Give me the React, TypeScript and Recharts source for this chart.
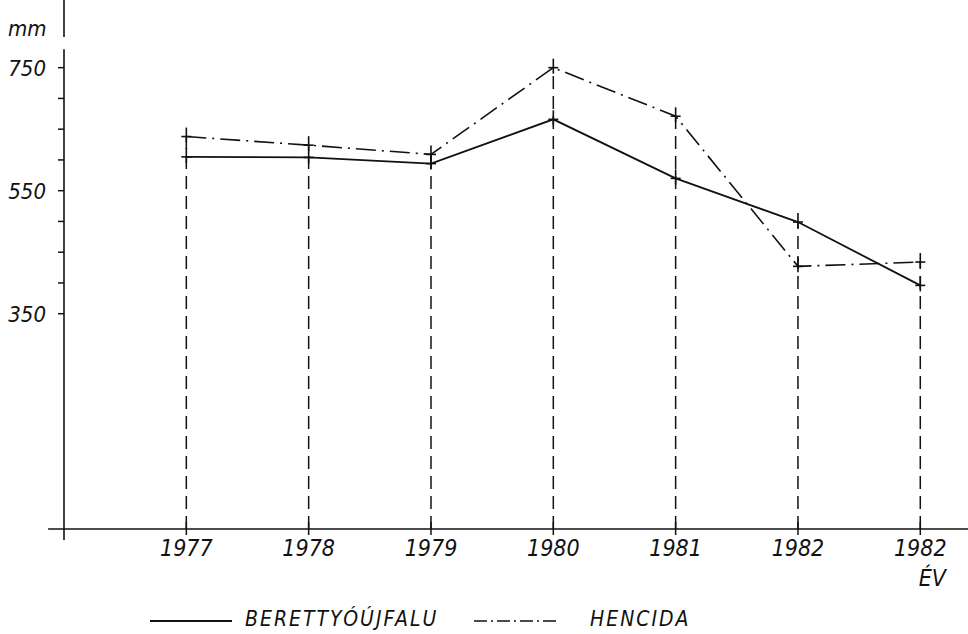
import React from "react";
import { LineChart, Line, XAxis, YAxis, ReferenceLine } from "recharts";

const yearLabels = ["1977", "1978", "1979", "1980", "1981", "1982", "1982"];
const berettyoujfalu = [605, 604, 594, 666, 570, 499, 396];
const hencida = [638, 624, 609, 750, 671, 427, 434];
const yTicks = [350, 400, 450, 500, 550, 600, 650, 700, 750];
const yLabelled = [350, 550, 750];

const data = yearLabels.map((year, i) => ({
  idx: i + 1,
  year,
  berettyo: berettyoujfalu[i],
  hencida: hencida[i],
}));

const INK = "#111";
const FONT = "'Liberation Sans Narrow', 'DejaVu Sans Condensed', 'Liberation Sans', sans-serif";

function CrossDot(props: any) {
  const { cx, cy, index } = props;
  if (cx == null || cy == null) return <g key={`n-${index}`} />;
  return (
    <g key={`c-${index}`}>
      <line x1={cx} y1={cy - 9} x2={cx} y2={cy + 6} stroke={INK} strokeWidth={1.6} />
      <line x1={cx - 5} y1={cy} x2={cx + 5} y2={cy} stroke={INK} strokeWidth={1.6} />
    </g>
  );
}

function XTick(props: any) {
  const { x, y, payload, index } = props;
  const label = yearLabels[payload.value - 1];
  return (
    <g>
      <line x1={x} y1={y - 7} x2={x} y2={y + 6} stroke={INK} strokeWidth={1.5} />
      <text x={x} y={y + 27} textAnchor="middle" fontSize={23} fontStyle="italic" fontFamily={FONT} fill={INK}>
        {label}
      </text>
      {index === yearLabels.length - 1 && (
        <text x={x + 12} y={y + 57} textAnchor="middle" fontSize={23} fontStyle="italic" fontFamily={FONT} fill={INK}>
          ÉV
        </text>
      )}
    </g>
  );
}

function YTick(props: any) {
  const { x, y, payload } = props;
  if (!yLabelled.includes(payload.value)) return <g />;
  return (
    <text x={x} y={y + 8} textAnchor="end" fontSize={22} fontStyle="italic" fontFamily={FONT} fill={INK}>
      {payload.value}
    </text>
  );
}

export default function App() {
  return (
    <div style={{ position: "absolute", left: 0, top: 0, width: 968, height: 634, background: "#fff" }}>
      <LineChart width={968} height={634} data={data} margin={{ top: 0, right: 0, left: 0, bottom: 0 }}>
        <XAxis
          dataKey="idx"
          type="number"
          domain={[0, 7.39]}
          ticks={data.map((d) => d.idx)}
          allowDataOverflow
          axisLine={false}
          tickLine={false}
          tickSize={0}
          tickMargin={0}
          height={105}
          tick={<XTick />}
          interval={0}
        />
        <YAxis
          type="number"
          domain={[0, 860]}
          ticks={yTicks}
          allowDataOverflow
          width={64}
          axisLine={false}
          tickLine={{ stroke: INK, strokeWidth: 1.5 }}
          tickSize={6}
          tickMargin={12}
          tick={<YTick />}
          interval={0}
        />
        <ReferenceLine
          segment={[{ x: -0.13, y: 0 }, { x: 7.39, y: 0 }]}
          stroke={INK}
          strokeWidth={1.6}
          ifOverflow="visible"
        />
        <ReferenceLine
          segment={[{ x: 0, y: -18 }, { x: 0, y: 780 }]}
          stroke={INK}
          strokeWidth={1.6}
          ifOverflow="visible"
        />
        <ReferenceLine
          segment={[{ x: 0, y: 800 }, { x: 0, y: 860 }]}
          stroke={INK}
          strokeWidth={1.6}
          ifOverflow="visible"
        />
        {data.map((d) => (
          <ReferenceLine
            key={`drop-${d.idx}`}
            segment={[{ x: d.idx, y: 0 }, { x: d.idx, y: Math.max(d.berettyo, d.hencida) }]}
            stroke={INK}
            strokeWidth={1.5}
            strokeDasharray="13 7"
            ifOverflow="visible"
          />
        ))}
        <Line
          type="linear"
          dataKey="berettyo"
          stroke={INK}
          strokeWidth={1.8}
          dot={CrossDot}
          activeDot={false}
          isAnimationActive={false}
        />
        <Line
          type="linear"
          dataKey="hencida"
          stroke={INK}
          strokeWidth={1.6}
          strokeDasharray="20 6 2 6"
          dot={CrossDot}
          activeDot={false}
          isAnimationActive={false}
        />
      </LineChart>
      <div
        style={{
          position: "absolute",
          left: 8,
          top: 16,
          fontFamily: FONT,
          fontStyle: "italic",
          fontSize: 22,
          color: INK,
        }}
      >
        mm
      </div>
      <div
        style={{
          position: "absolute",
          left: 0,
          top: 606,
          width: 968,
          height: 28,
          fontFamily: FONT,
          fontStyle: "italic",
          fontSize: 21,
          letterSpacing: 2,
          color: INK,
        }}
      >
        <svg style={{ position: "absolute", left: 150, top: 0 }} width={84} height={28}>
          <line x1={0} y1={15} x2={82} y2={15} stroke={INK} strokeWidth={1.8} />
        </svg>
        <span style={{ position: "absolute", left: 245, top: 1 }}>BERETTYÓÚJFALU</span>
        <svg style={{ position: "absolute", left: 474, top: 0 }} width={88} height={28}>
          <line x1={0} y1={15} x2={86} y2={15} stroke={INK} strokeWidth={1.6} strokeDasharray="13 4 2 4" />
        </svg>
        <span style={{ position: "absolute", left: 590, top: 1 }}>HENCIDA</span>
      </div>
    </div>
  );
}
